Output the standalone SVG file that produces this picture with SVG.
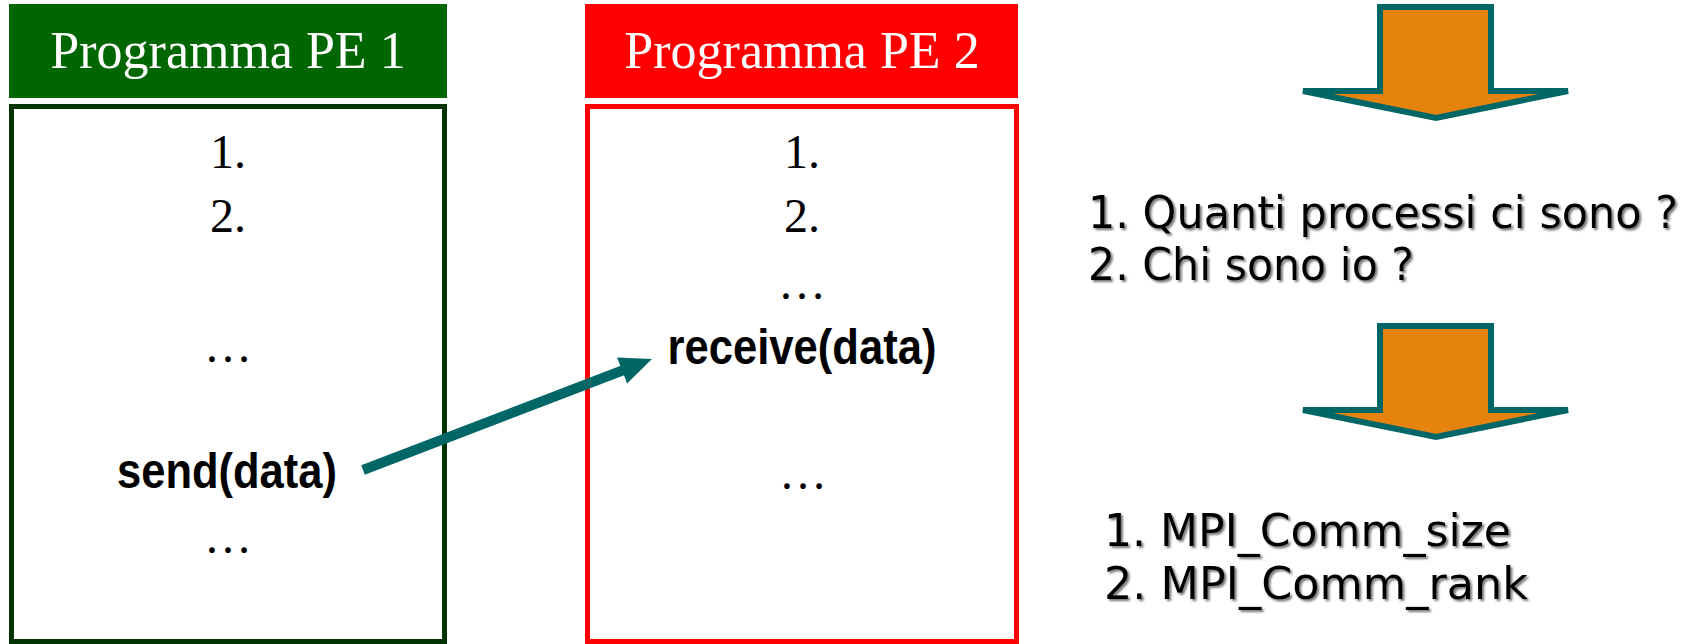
<svg xmlns="http://www.w3.org/2000/svg" width="1689" height="644" viewBox="0 0 1689 644">
<style>
.hdr{font-family:"Liberation Serif","Times New Roman",serif;font-size:52px;fill:#fff;text-anchor:middle}
.item{font-family:"Liberation Serif","Times New Roman",serif;font-size:48px;fill:#000;text-anchor:middle}
.code{font-family:"Liberation Sans",Arial,sans-serif;font-weight:bold;font-size:50px;fill:#000;text-anchor:middle}
.note{font-family:"DejaVu Sans Condensed","DejaVu Sans",sans-serif;font-size:44px;fill:#000;filter:url(#sh)}
.blk{fill:#E6820E;stroke:#006666;stroke-width:6}
</style>
<defs>
<filter id="sh" x="-5%" y="-20%" width="110%" height="150%">
<feDropShadow dx="2" dy="2" stdDeviation="0.8" flood-color="#666" flood-opacity="0.9"/>
</filter>
<polygon id="blockArrow" points="1380,7 1491,7 1491,91 1568,91 1436,118 1303,91 1380,91"/>
</defs>
<rect width="1689" height="644" fill="#fff"/>
<g id="pe1">
<rect x="9" y="4" width="438" height="94" fill="#006600"/>
<text class="hdr" x="228" y="68">Programma PE 1</text>
<rect x="11.5" y="106.5" width="433" height="535" fill="#fff" stroke="#033303" stroke-width="5"/>
<text class="item" x="228" y="168">1.</text>
<text class="item" x="228" y="232">2.</text>
<text class="item" x="228" y="362">…</text>
<text class="code" x="227" y="488" textLength="220" lengthAdjust="spacingAndGlyphs">send(data)</text>
<text class="item" x="228" y="553">…</text>
</g>
<g id="pe2">
<rect x="585" y="4" width="433" height="94" fill="#ff0000"/>
<text class="hdr" x="802" y="68">Programma PE 2</text>
<rect x="587.5" y="106.5" width="429" height="535" fill="#fff" stroke="#ff0000" stroke-width="5"/>
<text class="item" x="802" y="168">1.</text>
<text class="item" x="802" y="232">2.</text>
<text class="item" x="802" y="299">…</text>
<text class="code" x="802" y="364" textLength="269" lengthAdjust="spacingAndGlyphs">receive(data)</text>
<text class="item" x="803" y="489">…</text>
</g>
<g id="connectors">
<line x1="363" y1="470" x2="625" y2="369.5" stroke="#006666" stroke-width="10"/>
<polygon points="652,359 617.1,357.4 627.1,383.6" fill="#006666"/>
</g>
<g id="arrow1">
<use href="#blockArrow" class="blk"/>
</g>
<g id="questions">
<text class="note" x="1088" y="228" textLength="590" lengthAdjust="spacingAndGlyphs">1. Quanti processi ci sono ?</text>
<text class="note" x="1088" y="280" textLength="326" lengthAdjust="spacingAndGlyphs">2. Chi sono io ?</text>
</g>
<g id="arrow2">
<use href="#blockArrow" class="blk" transform="translate(0,319)"/>
</g>
<g id="answers">
<text class="note" x="1104" y="546" textLength="407" lengthAdjust="spacingAndGlyphs">1. MPI_Comm_size</text>
<text class="note" x="1104" y="599" textLength="424" lengthAdjust="spacingAndGlyphs">2. MPI_Comm_rank</text>
</g>
</svg>
